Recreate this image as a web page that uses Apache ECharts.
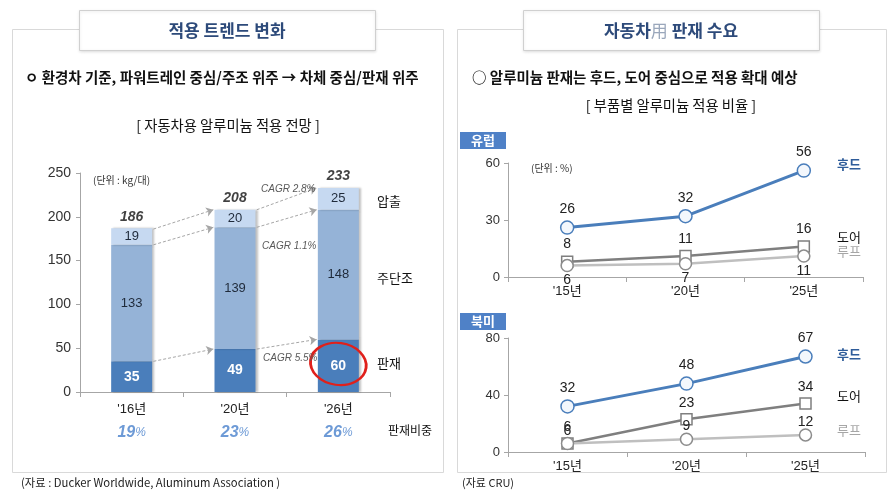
<!DOCTYPE html>
<html><head><meta charset="utf-8">
<script src="https://cdn.jsdelivr.net/npm/echarts@6/dist/echarts.min.js"></script>
<style>html,body{margin:0;padding:0;background:#fff}#c{width:896px;height:499px}</style>
</head><body><div id="c"></div>
<script>
// ---- data ----
const barCats = ["'16년", "'20년", "'26년"];
const panelVals = [35, 49, 60];        // 판재
const forgingVals = [133, 139, 148];   // 주단조
const extrusionVals = [19, 20, 25];    // 압출
const totals = [186, 208, 233];
const panelShare = [19, 23, 26];       // 판재비중 %
const cagrTexts = ['CAGR 2.8%', 'CAGR 1.1%', 'CAGR 5.5%'];
const barAxis = { min: 0, max: 250, interval: 50 };

const lineCats = ["'15년", "'20년", "'25년"];
const euHood = [26, 32, 56];
const euDoor = [8, 11, 16];
const euRoof = [6, 7, 11];
const naHood = [32, 48, 67];
const naDoor = [6, 23, 34];
const naRoof = [6, 9, 12];
const euAxis = { min: 0, max: 60, interval: 30 };
const naAxis = { min: 0, max: 80, interval: 40 };

// ---- styles ----
const F = "'Liberation Sans', 'Noto Sans CJK KR', sans-serif";
const K = "'Noto Sans CJK KR', 'Liberation Sans', sans-serif";
const C_PANEL = '#4a7ebb', C_FORGE = '#95b3d7', C_EXTR = '#c6d9f1';
const C_HOOD = '#4a7ebb', C_DOOR = '#7f7f7f', C_ROOF = '#bfbfbf';

// arrow segments (tops of stacked segments, bar i -> bar i+1)
const panelTop = panelVals;
const forgeTop = panelVals.map((v, i) => v + forgingVals[i]);
const arrowData = [];
[totals, forgeTop, panelTop].forEach(tops => {
  for (let i = 0; i < tops.length - 1; i++) {
    arrowData.push({ coords: [[i + 0.21, tops[i]], [i + 0.79, tops[i + 1]]] });
  }
});

const chart = echarts.init(document.getElementById('c'), null, { renderer: 'canvas' });

function axisCommon() {
  return {
    axisLine: { show: true, onZero: false, lineStyle: { color: '#a6a6a6', width: 1 } },
    axisTick: { show: true, length: 4, lineStyle: { color: '#a6a6a6' } },
    splitLine: { show: false }
  };
}

function lineSeries(name, data, xi, yi, color, width, symbol, size, border, labelPos, labelDist, fill) {
  return {
    type: 'line', name, data, xAxisIndex: xi, yAxisIndex: yi,
    lineStyle: { color, width },
    symbol, symbolSize: size, showAllSymbol: true,
    itemStyle: { color: fill, borderColor: border, borderWidth: 1.5 },
    label: { show: true, position: labelPos, distance: labelDist, fontFamily: F, fontSize: 14, color: '#222' },
    z: name === '후드' ? 5 : 4
  };
}

const barShadow = { shadowColor: 'rgba(0,0,0,0.25)', shadowBlur: 2, shadowOffsetX: 2 };

const option = {
  animation: false,
  backgroundColor: '#fff',
  grid: [
    { left: 80, top: 173, width: 310, height: 219 },
    { left: 508, top: 163, width: 355, height: 114 },
    { left: 508, top: 338, width: 357, height: 114 }
  ],
  xAxis: [
    Object.assign(axisCommon(), {
      type: 'category', gridIndex: 0, data: barCats,
      axisTick: { show: true, length: 5, lineStyle: { color: '#a6a6a6' } },
      axisLabel: {
        margin: 6,
        formatter: (v, i) => `{c|${v}}\n{p|${panelShare[i]}}{s|%}`,
        rich: {
          c: { fontFamily: F, fontSize: 13, color: '#222', lineHeight: 22 },
          p: { fontFamily: F, fontSize: 16, fontWeight: 'bold', fontStyle: 'italic', color: '#6d9ad6', lineHeight: 26 },
          s: { fontFamily: F, fontSize: 12, fontStyle: 'italic', color: '#6d9ad6', lineHeight: 26 }
        }
      }
    }),
    { type: 'value', gridIndex: 0, min: -0.5, max: 2.5, show: false },
    Object.assign(axisCommon(), {
      type: 'category', gridIndex: 1, data: lineCats,
      axisTick: { show: true, length: 5, lineStyle: { color: '#a6a6a6' } },
      axisLabel: { margin: 8, fontFamily: F, fontSize: 13, color: '#222' }
    }),
    Object.assign(axisCommon(), {
      type: 'category', gridIndex: 2, data: lineCats,
      axisTick: { show: true, length: 5, lineStyle: { color: '#a6a6a6' } },
      axisLabel: { margin: 8, fontFamily: F, fontSize: 13, color: '#222' }
    })
  ],
  yAxis: [
    Object.assign(axisCommon(), {
      type: 'value', gridIndex: 0, min: barAxis.min, max: barAxis.max, interval: barAxis.interval,
      axisLabel: { fontFamily: F, fontSize: 14, color: '#333', margin: 9 }
    }),
    Object.assign(axisCommon(), {
      type: 'value', gridIndex: 1, min: euAxis.min, max: euAxis.max, interval: euAxis.interval,
      axisLabel: { fontFamily: F, fontSize: 13, color: '#333', margin: 8 }
    }),
    Object.assign(axisCommon(), {
      type: 'value', gridIndex: 2, min: naAxis.min, max: naAxis.max, interval: naAxis.interval,
      axisLabel: { fontFamily: F, fontSize: 13, color: '#333', margin: 8 }
    })
  ],
  series: [
    {
      type: 'bar', name: '판재', stack: 'a', data: panelVals, xAxisIndex: 0, yAxisIndex: 0,
      barWidth: 41, itemStyle: Object.assign({ color: C_PANEL }, barShadow),
      label: { show: true, position: 'inside', fontFamily: F, fontSize: 14, fontWeight: 'bold', color: '#fff' },
      markPoint: {
        symbol: 'circle', symbolSize: [56, 42], symbolRotate: -8,
        itemStyle: { color: 'rgba(0,0,0,0)', borderColor: '#e0201b', borderWidth: 2.5 },
        label: { show: false },
        data: [{ coord: [2, panelVals[2] / 2 + 2] }]
      }
    },
    {
      type: 'bar', name: '주단조', stack: 'a', data: forgingVals, xAxisIndex: 0, yAxisIndex: 0,
      barWidth: 41, itemStyle: Object.assign({ color: C_FORGE }, barShadow),
      label: { show: true, position: 'inside', fontFamily: F, fontSize: 13, color: '#1f2a3a' }
    },
    {
      type: 'bar', name: '압출', stack: 'a', data: extrusionVals, xAxisIndex: 0, yAxisIndex: 0,
      barWidth: 41, itemStyle: Object.assign({ color: C_EXTR }, barShadow),
      label: { show: true, position: 'inside', fontFamily: F, fontSize: 13, color: '#1f2a3a' }
    },
    {
      type: 'scatter', name: 'total', data: totals, xAxisIndex: 0, yAxisIndex: 0,
      symbolSize: 1, itemStyle: { color: 'rgba(0,0,0,0)' },
      label: { show: true, position: 'top', distance: 4, fontFamily: F, fontSize: 14, fontWeight: 'bold', fontStyle: 'italic', color: '#111' }
    },
    {
      type: 'lines', coordinateSystem: 'cartesian2d', xAxisIndex: 1, yAxisIndex: 0,
      data: arrowData, symbol: ['none', 'arrow'], symbolSize: 7,
      lineStyle: { color: '#a6a6a6', width: 1, type: [3, 2], opacity: 1 }, z: 6
    },
    lineSeries('후드', euHood, 2, 1, C_HOOD, 3, 'circle', 13, C_HOOD, 'top', 4, '#f3f7fc'),
    lineSeries('도어', euDoor, 2, 1, C_DOOR, 2.5, 'rect', 11, C_DOOR, 'top', 4, '#fff'),
    lineSeries('루프', euRoof, 2, 1, C_ROOF, 2.5, 'circle', 12, '#8c8c8c', 'bottom', 1, '#fff'),
    lineSeries('후드', naHood, 3, 2, C_HOOD, 3, 'circle', 13, C_HOOD, 'top', 4, '#f3f7fc'),
    lineSeries('도어', naDoor, 3, 2, C_DOOR, 2.5, 'rect', 11, C_DOOR, 'top', 3, '#fff'),
    lineSeries('루프', naRoof, 3, 2, C_ROOF, 2.5, 'circle', 12, '#8c8c8c', 'top', -1, '#fff')
  ],
  graphic: [
    // panels
    { type: 'rect', z: 0, shape: { x: 12.5, y: 29.5, width: 431, height: 443 }, style: { fill: 'none', stroke: '#d9d9d9', lineWidth: 1 } },
    { type: 'rect', z: 0, shape: { x: 457.5, y: 29.5, width: 429, height: 443 }, style: { fill: 'none', stroke: '#d9d9d9', lineWidth: 1 } },
    // title boxes
    { type: 'rect', z: 10, shape: { x: 79.5, y: 10.5, width: 296, height: 40 }, style: { fill: '#fff', stroke: '#d0d0d0', lineWidth: 1, shadowColor: 'rgba(0,0,0,0.12)', shadowBlur: 3, shadowOffsetY: 1 } },
    { type: 'text', z: 11, x: 227, y: 31, style: { text: '적용 트렌드 변화', font: `bold 17px ${K}`, fill: '#2d4a7a', align: 'center', verticalAlign: 'middle' } },
    { type: 'rect', z: 10, shape: { x: 523.5, y: 10.5, width: 296, height: 40 }, style: { fill: '#fff', stroke: '#d0d0d0', lineWidth: 1, shadowColor: 'rgba(0,0,0,0.12)', shadowBlur: 3, shadowOffsetY: 1 } },
    { type: 'text', z: 11, x: 671, y: 31, style: {
      text: '{a|자동차}{b|用}{a| 판재 수요}', align: 'center', verticalAlign: 'middle',
      rich: { a: { font: `bold 17px ${K}`, fill: '#2d4a7a' }, b: { font: `17px ${K}`, fill: '#9aa7bb' } } } },
    // bullets and subtitles
    { type: 'text', z: 11, x: 25, y: 77, style: { text: 'ㅇ 환경차 기준, 파워트레인 중심/주조 위주 → 차체 중심/판재 위주', font: `bold 14.5px ${K}`, fill: '#111', verticalAlign: 'middle' } },
    { type: 'text', z: 11, x: 228, y: 126, style: { text: '[ 자동차용 알루미늄 적용 전망 ]', font: `14.3px ${K}`, fill: '#111', align: 'center', verticalAlign: 'middle' } },
    { type: 'text', z: 11, x: 472, y: 77, style: { text: '○ 알루미늄 판재는 후드, 도어 중심으로 적용 확대 예상', font: `bold 14.5px ${K}`, fill: '#111', verticalAlign: 'middle' } },
    { type: 'text', z: 11, x: 671, y: 106, style: { text: '[ 부품별 알루미늄 적용 비율 ]', font: `14.3px ${K}`, fill: '#111', align: 'center', verticalAlign: 'middle' } },
    // bar chart annotations
    { type: 'text', z: 11, x: 93, y: 180, style: { text: '(단위 : kg/대)', font: `10px ${K}`, fill: '#333', verticalAlign: 'middle' } },
    { type: 'text', z: 11, x: 261, y: 189, style: { text: cagrTexts[0], font: `italic 10px ${F}`, fill: '#595959', verticalAlign: 'middle' } },
    { type: 'text', z: 11, x: 262, y: 246, style: { text: cagrTexts[1], font: `italic 10px ${F}`, fill: '#595959', verticalAlign: 'middle' } },
    { type: 'text', z: 11, x: 263, y: 358, style: { text: cagrTexts[2], font: `italic 10px ${F}`, fill: '#595959', verticalAlign: 'middle' } },
    { type: 'text', z: 11, x: 377, y: 201, style: { text: '압출', font: `13px ${K}`, fill: '#111', verticalAlign: 'middle' } },
    { type: 'text', z: 11, x: 377, y: 278, style: { text: '주단조', font: `13px ${K}`, fill: '#111', verticalAlign: 'middle' } },
    { type: 'text', z: 11, x: 377, y: 363, style: { text: '판재', font: `13px ${K}`, fill: '#111', verticalAlign: 'middle' } },
    { type: 'text', z: 11, x: 388, y: 430, style: { text: '판재비중', font: `12px ${K}`, fill: '#111', verticalAlign: 'middle' } },
    { type: 'text', z: 11, x: 21, y: 483, style: { text: '(자료 : Ducker Worldwide, Aluminum Association )', font: `11.3px ${K}`, fill: '#222', verticalAlign: 'middle' } },
    // right side
    { type: 'rect', z: 11, shape: { x: 460, y: 132, width: 46, height: 17 }, style: { fill: '#4f81c7' } },
    { type: 'text', z: 12, x: 483, y: 140.5, style: { text: '유럽', font: `bold 13px ${K}`, fill: '#fff', align: 'center', verticalAlign: 'middle' } },
    { type: 'rect', z: 11, shape: { x: 460, y: 313, width: 46, height: 17 }, style: { fill: '#4f81c7' } },
    { type: 'text', z: 12, x: 483, y: 321.5, style: { text: '북미', font: `bold 13px ${K}`, fill: '#fff', align: 'center', verticalAlign: 'middle' } },
    { type: 'text', z: 11, x: 531, y: 168, style: { text: '(단위 : %)', font: `10px ${K}`, fill: '#333', verticalAlign: 'middle' } },
    { type: 'text', z: 11, x: 837, y: 164, style: { text: '후드', font: `bold 13px ${K}`, fill: '#2e5c9a', verticalAlign: 'middle' } },
    { type: 'text', z: 11, x: 837, y: 237, style: { text: '도어', font: `13px ${K}`, fill: '#111', verticalAlign: 'middle' } },
    { type: 'text', z: 11, x: 837, y: 251, style: { text: '루프', font: `13px ${K}`, fill: '#a6a6a6', verticalAlign: 'middle' } },
    { type: 'text', z: 11, x: 837, y: 354, style: { text: '후드', font: `bold 13px ${K}`, fill: '#2e5c9a', verticalAlign: 'middle' } },
    { type: 'text', z: 11, x: 837, y: 396, style: { text: '도어', font: `13px ${K}`, fill: '#111', verticalAlign: 'middle' } },
    { type: 'text', z: 11, x: 837, y: 430, style: { text: '루프', font: `13px ${K}`, fill: '#a6a6a6', verticalAlign: 'middle' } },
    { type: 'text', z: 11, x: 462, y: 483, style: { text: '(자료 CRU)', font: `11px ${K}`, fill: '#222', verticalAlign: 'middle' } }
  ]
};
chart.setOption(option);
</script>
</body></html>
